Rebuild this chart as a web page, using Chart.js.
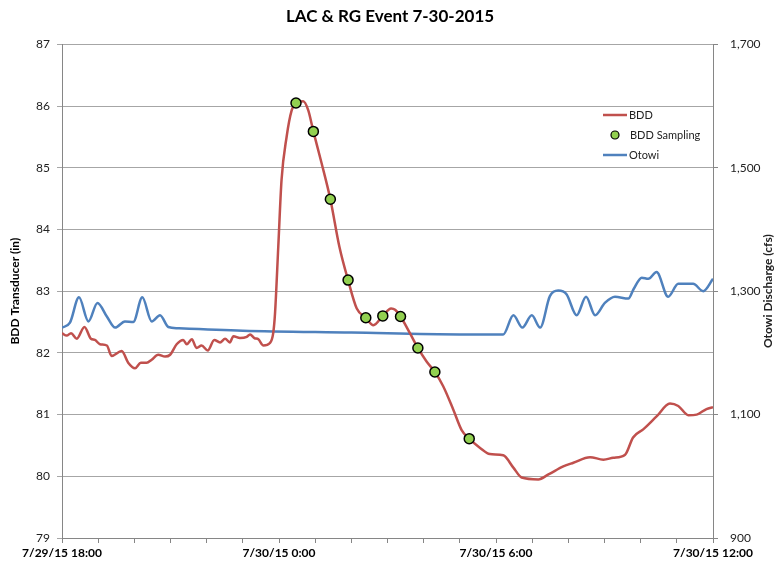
<!DOCTYPE html>
<html lang="en">
<head>
    <meta charset="UTF-8">
    <title>LAC &amp; RG Event 7-30-2015</title>
    <style>
        body {
            margin: 0;
            background-color: #fff;
        }
        .chart-container {
            width: 780px;
            height: 566px;
        }
    </style>
</head>
<body>
    <div class="chart-container">
        <canvas id="eventChart"></canvas>
    </div>

    <script src="https://cdn.jsdelivr.net/npm/chart.js"></script>

    <script>
        // hours after 7/29/15 18:00
        const xTickLabels = ['7/29/15 18:00', '7/30/15 0:00', '7/30/15 6:00', '7/30/15 12:00'];

        const bddHours = [0.00, 0.13, 0.25, 0.41, 0.62, 0.80, 0.91, 1.05, 1.24, 1.37, 1.65, 1.83, 2.02, 2.18,
            2.34, 2.48, 2.66, 2.85, 2.99, 3.17, 3.35, 3.45, 3.59, 3.72, 3.86, 4.03, 4.21, 4.37, 4.51, 4.64,
            4.74, 4.92, 5.11, 5.20, 5.32, 5.43, 5.57, 5.75, 5.84, 5.89, 5.98, 6.07, 6.21, 6.35, 6.47, 6.67,
            6.81, 6.95, 7.18, 7.42, 7.67, 7.91, 8.15, 8.40, 8.61, 8.87, 9.10, 9.21, 9.36, 9.62, 9.84, 10.08,
            10.31, 10.54, 10.82, 11.05, 11.26, 11.56, 11.83, 12.20, 12.48, 12.71, 13.17, 13.45, 13.86, 14.14,
            14.60, 14.97, 15.24, 15.57, 15.79, 16.07, 16.44, 16.81, 17.04, 17.32, 17.55, 17.82, 18.00];
        const bddLevel = [82.32, 82.28, 82.32, 82.23, 82.42, 82.23, 82.21, 82.14, 82.12, 81.95, 82.03, 81.84, 81.75, 81.84,
            81.84, 81.89, 81.97, 81.94, 81.97, 82.14, 82.21, 82.14, 82.22, 82.08, 82.12, 82.04, 82.21, 82.17, 82.23, 82.17,
            82.27, 82.24, 82.26, 82.30, 82.24, 82.22, 82.12, 82.16, 82.32, 82.64, 83.72, 84.80, 85.50, 85.93, 86.05, 86.08,
            85.93, 85.59, 85.07, 84.49, 83.72, 83.18, 82.72, 82.57, 82.45, 82.60, 82.72, 82.70, 82.59, 82.32, 82.08, 81.86,
            81.69, 81.46, 81.08, 80.75, 80.61, 80.46, 80.36, 80.34, 80.14, 79.98, 79.95, 80.03, 80.16, 80.22,
            80.31, 80.27, 80.30, 80.35, 80.63, 80.76, 80.97, 81.18, 81.14, 80.99, 81.00, 81.09, 81.12];

        const samplingHours = [6.47, 6.95, 7.42, 7.91, 8.40, 8.87, 9.36, 9.84, 10.31, 11.26];
        const samplingLevel = [86.05, 85.59, 84.49, 83.18, 82.57, 82.60, 82.59, 82.08, 81.69, 80.61];

        const otowiHours = [0.00, 0.22, 0.47, 0.73, 0.98, 1.24, 1.47, 1.74, 1.97, 2.22, 2.48, 2.71, 2.94, 3.20,
            5.00, 8.00, 11.00, 12.20, 12.48, 12.73, 12.99, 13.22, 13.49, 13.72, 13.95, 14.23, 14.49, 14.74,
            15.01, 15.29, 15.66, 15.81, 16.03, 16.21, 16.44, 16.76, 17.04, 17.45, 17.73, 18.00];
        const otowiFlow = [1241, 1249, 1290, 1251, 1281, 1259, 1241, 1251, 1250, 1290, 1251, 1261, 1242, 1240,
            1236, 1233, 1230, 1230, 1261, 1241, 1261, 1241, 1292, 1301, 1295, 1261, 1291, 1261,
            1281, 1291, 1288, 1304, 1322, 1320, 1331, 1291, 1312, 1312, 1300, 1320];

        const toPoints = (xs, ys) => xs.map((x, i) => ({ x: x, y: ys[i] }));

        const red = '#C0504D';
        const blue = '#4F81BD';
        const green = '#92D050';
        const fontFamily = 'Lato, "Open Sans", sans-serif';

        // legend sits inside the plot, top right
        const innerLegend = {
            id: 'innerLegend',
            afterDraw(chart) {
                const ctx = chart.ctx;
                ctx.save();
                ctx.font = '11px ' + fontFamily;
                ctx.fillStyle = '#222';
                ctx.textBaseline = 'middle';
                ctx.lineWidth = 2.5;

                ctx.strokeStyle = red;
                ctx.beginPath(); ctx.moveTo(603, 115); ctx.lineTo(627, 115); ctx.stroke();
                ctx.fillText('BDD', 629, 115);

                ctx.beginPath();
                ctx.arc(615, 135, 4, 0, Math.PI * 2);
                ctx.fillStyle = green; ctx.fill();
                ctx.lineWidth = 1.2; ctx.strokeStyle = '#000'; ctx.stroke();
                ctx.fillStyle = '#222';
                ctx.fillText('BDD Sampling', 630, 135);

                ctx.lineWidth = 2.5;
                ctx.strokeStyle = blue;
                ctx.beginPath(); ctx.moveTo(603, 155); ctx.lineTo(627, 155); ctx.stroke();
                ctx.fillText('Otowi', 629, 155);

                // right axis title reads bottom to top, like the left one
                const area = chart.chartArea;
                ctx.translate(768, (area.top + area.bottom) / 2);
                ctx.rotate(-Math.PI / 2);
                ctx.font = 'bold 12px ' + fontFamily;
                ctx.textAlign = 'center';
                ctx.fillText('Otowi Discharge (cfs)', 0, 0);
                ctx.restore();
            }
        };

        const ctx = document.getElementById('eventChart').getContext('2d');
        new Chart(ctx, {
            type: 'line',
            data: {
                datasets: [
                    {
                        label: 'BDD Sampling',
                        data: toPoints(samplingHours, samplingLevel),
                        yAxisID: 'y',
                        showLine: false,
                        pointRadius: 5,
                        pointBackgroundColor: green,
                        pointBorderColor: '#000',
                        pointBorderWidth: 1.5,
                        order: 0
                    },
                    {
                        label: 'BDD',
                        data: toPoints(bddHours, bddLevel),
                        yAxisID: 'y',
                        borderColor: red,
                        borderWidth: 2.5,
                        pointRadius: 0,
                        cubicInterpolationMode: 'monotone',
                        order: 1
                    },
                    {
                        label: 'Otowi',
                        data: toPoints(otowiHours, otowiFlow),
                        yAxisID: 'y1',
                        borderColor: blue,
                        borderWidth: 2.5,
                        pointRadius: 0,
                        cubicInterpolationMode: 'monotone',
                        order: 2
                    }
                ]
            },
            options: {
                responsive: true,
                maintainAspectRatio: false,
                animation: false,
                layout: { padding: 0 },
                plugins: {
                    legend: { display: false },
                    tooltip: { enabled: false },
                    title: {
                        display: true,
                        text: 'LAC & RG Event 7-30-2015',
                        color: '#000',
                        font: { family: fontFamily, size: 17, weight: 'bold' },
                        padding: { top: 6, bottom: 18 }
                    }
                },
                scales: {
                    x: {
                        type: 'linear',
                        min: 0,
                        max: 18,
                        afterFit: (scale) => { scale.height = 28; },
                        ticks: {
                            stepSize: 1,
                            autoSkip: false,
                            maxRotation: 0,
                            padding: 3,
                            color: '#000',
                            font: { family: fontFamily, size: 12, weight: 'bold' },
                            callback: (value) => value % 6 === 0 ? xTickLabels[value / 6] : ''
                        },
                        grid: { drawOnChartArea: false, tickLength: 5, color: '#868686' },
                        border: { color: '#868686' }
                    },
                    y: {
                        position: 'left',
                        min: 79,
                        max: 87,
                        afterFit: (scale) => { scale.width = 62; },
                        ticks: {
                            stepSize: 1,
                            padding: 7,
                            color: '#222',
                            font: { family: fontFamily, size: 12 }
                        },
                        grid: { color: '#a6a6a6', tickLength: 5 },
                        border: { color: '#868686' },
                        title: {
                            display: true,
                            text: 'BDD Transducer (in)',
                            color: '#000',
                            font: { family: fontFamily, size: 12, weight: 'bold' },
                            padding: { top: 8, bottom: 0 }
                        }
                    },
                    y1: {
                        position: 'right',
                        min: 900,
                        max: 1700,
                        afterFit: (scale) => { scale.width = 67; },
                        ticks: {
                            stepSize: 200,
                            padding: 12,
                            color: '#222',
                            font: { family: fontFamily, size: 12 }
                        },
                        grid: { drawOnChartArea: false, tickLength: 5, color: '#868686' },
                        border: { color: '#868686' }
                    }
                }
            },
            plugins: [innerLegend]
        });
    </script>
</body>
</html>
